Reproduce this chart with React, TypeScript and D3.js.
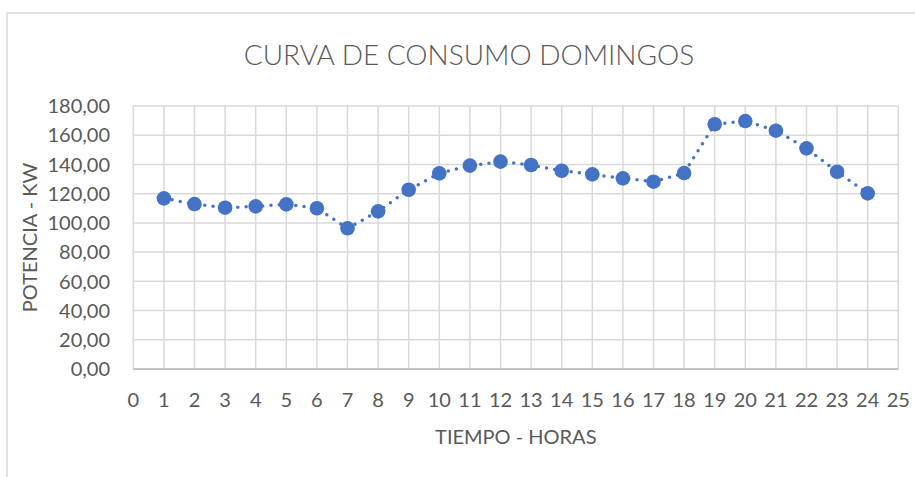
import React from "react";
import * as d3 from "d3";

const hours = [1, 2, 3, 4, 5, 6, 7, 8, 9, 10, 11, 12, 13, 14, 15, 16, 17, 18, 19, 20, 21, 22, 23, 24];
const power = [116.8, 112.9, 110.4, 111.3, 112.7, 110.0, 96.3, 107.9, 122.7, 133.9, 139.2, 141.9, 139.6, 135.7, 133.2, 130.5, 128.2, 134.1, 167.5, 169.7, 163.1, 151.0, 135.0, 120.2];
const xTicks = d3.range(0, 26);
const yTicks = d3.range(0, 181, 20);
const title = "CURVA DE CONSUMO DOMINGOS";
const xTitle = "TIEMPO - HORAS";
const yTitle = "POTENCIA - KW";

const W = 915;
const H = 477;
const FONT = "Lato, 'Open Sans', sans-serif";
const TXT = "#595959";
const BLUE = "#4472C4";

export default function App() {
  const x = d3.scaleLinear().domain([0, 25]).range([133.3, 898.3]);
  const y = d3.scaleLinear().domain([0, 180]).range([369, 106]);
  const fmt = (v: number) => d3.format(".2f")(v).replace(".", ",");
  const line = d3
    .line<number>()
    .x((_, i) => x(hours[i]))
    .y((d) => y(d));

  return (
    <svg
      width={W}
      height={H}
      style={{ position: "absolute", left: 0, top: 0, background: "#fff" }}
      fontFamily={FONT}
    >
      <rect x={0} y={0} width={W} height={H} fill="#fff" />
      <rect x={7} y={13} width={W + 20} height={H + 20} fill="#fff" stroke="#d9d9d9" strokeWidth={1.5} />
      <text x={469} y={65} textAnchor="middle" fontSize={28} fill={TXT} fontWeight={300}>
        {title}
      </text>
      {yTicks.map((t) => (
        <line key={"h" + t} x1={x(0)} x2={x(25)} y1={y(t)} y2={y(t)} stroke={t === 0 ? "#bfbfbf" : "#d9d9d9"} strokeWidth={1.5} />
      ))}
      {xTicks.map((t) => (
        <line key={"v" + t} x1={x(t)} x2={x(t)} y1={y(0)} y2={y(180)} stroke="#d9d9d9" strokeWidth={1.5} />
      ))}
      <line x1={x(0)} x2={x(25)} y1={y(0)} y2={y(0)} stroke="#bfbfbf" strokeWidth={1.5} />
      {yTicks.map((t) => (
        <text key={"yl" + t} x={110} y={y(t)} dy="0.36em" textAnchor="end" fontSize={20} fill={TXT}>
          {fmt(t)}
        </text>
      ))}
      {xTicks.map((t) => (
        <text key={"xl" + t} x={x(t)} y={407} textAnchor="middle" fontSize={20} fill={TXT}>
          {t}
        </text>
      ))}
      <text x={x(12.5)} y={444} textAnchor="middle" fontSize={20} fill={TXT}>
        {xTitle}
      </text>
      <text
        transform={`translate(36.5, ${(y(0) + y(180)) / 2}) rotate(-90)`}
        textAnchor="middle"
        fontSize={20}
        fill={TXT}
      >
        {yTitle}
      </text>
      <path
        d={line(power) || ""}
        fill="none"
        stroke={BLUE}
        strokeWidth={3.5}
        strokeLinecap="round"
        strokeDasharray="0 8.3"
      />
      {power.map((v, i) => (
        <circle key={"p" + i} cx={x(hours[i])} cy={y(v)} r={7.3} fill={BLUE} />
      ))}
    </svg>
  );
}
